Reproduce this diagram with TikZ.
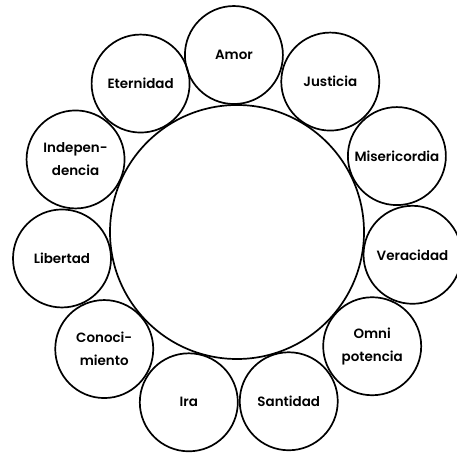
\documentclass[tikz,border=0pt]{standalone}
\usepackage{fontspec}
\setmainfont{Poppins}[UprightFont=* SemiBold]
\begin{document}
\begin{tikzpicture}[x=1bp,y=-1bp,
  ring/.style={draw=black,line width=1.7bp,circle,minimum size=98bp,inner sep=0pt,
    align=center,font=\fontsize{13.5}{23}\selectfont},
  hub/.style={draw=black,line width=1.7bp,circle,minimum size=254bp,inner sep=0pt}]
  \useasboundingbox (0,0) rectangle (457,453);
  \node[hub] (centro) at (237,232) {};
  \foreach \nm/\ang/\txt in {
      amor/91/Amor,
      justicia/58.2/Justicia,
      misericordia/25.4/Misericordia,
      veracidad/-7.4/Veracidad,
      omni/-40.2/Omni\\potencia,
      santidad/-73/Santidad,
      ira/-105.8/Ira,
      conocimiento/-138.6/Conoci-\\miento,
      libertad/-171.4/Libertad,
      independencia/155.8/Indepen-\\dencia,
      eternidad/123/Eternidad}
    \node[ring] (\nm) at ({237+177*cos(\ang)},{232-177*sin(\ang)}) {\txt};
\end{tikzpicture}
\end{document}
